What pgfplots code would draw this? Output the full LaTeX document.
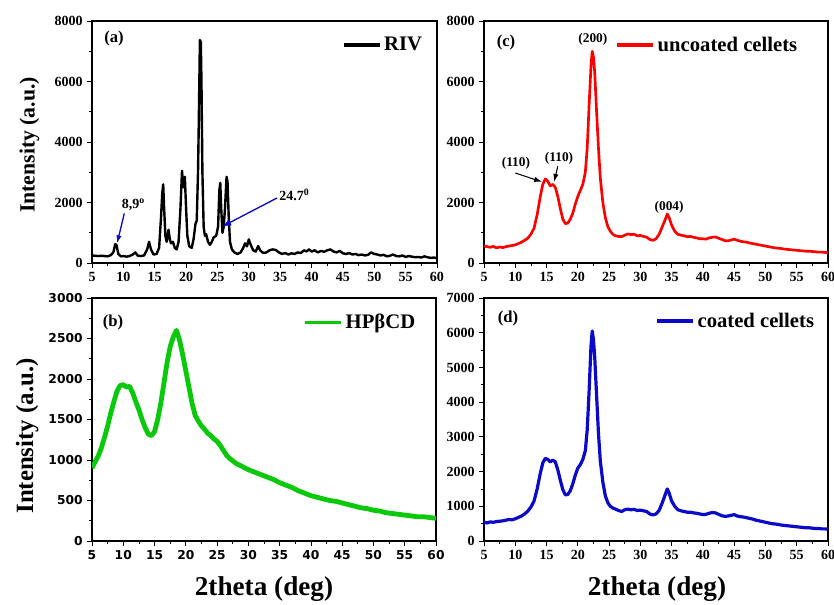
\documentclass[border=0pt]{standalone}
\usepackage{fontspec}
\setmainfont{Liberation Serif}
\newfontfamily\dejavu{DejaVu Sans}
\usepackage{pgfplots}
\pgfplotsset{compat=1.18}
\usetikzlibrary{arrows.meta}
\definecolor{xgreen}{RGB}{10,200,10}
\definecolor{xblue}{RGB}{10,10,200}
\definecolor{xred}{RGB}{255,0,0}
\pgfplotsset{
  xrd/.style={
    scale only axis,
    xmin=5, xmax=60, ymin=0,
    xtick={5,10,...,60},
    minor x tick num=1, minor y tick num=1,
    tick align=outside,
    xtick pos=left, ytick pos=left,
    major tick length=3.5pt, minor tick length=2pt,
    every tick/.style={black, line width=0.6pt},
    axis line style={line width=0.8pt},
    /pgf/number format/assume math mode=true,
    /pgf/number format/set thousands separator={},
    scaled y ticks=false,
    tick label style={font=\bfseries\fontsize{10.5}{12}\selectfont},
    legend style={draw=none, fill=none, anchor=east,
      font=\bfseries\fontsize{15.5}{17}\selectfont,
      inner sep=0pt,
      /tikz/every even column/.append style={column sep=0pt}},
    legend cell align=left,
    legend image code/.code={\draw[#1, line width=2.6pt] (0pt,0pt) -- (27pt,0pt);},
  }
}
\begin{document}
\begin{tikzpicture}
\path[use as bounding box] (0,0) rectangle (625.5pt,-453pt);

% (a) RIV
\begin{axis}[xrd, at={(69pt,-197.25pt)}, anchor=south west,
  width=258.75pt, height=181.5pt, ymax=8000, ytick={0,2000,...,8000},
  legend style={at={(0.965,0.90)}}]
\addplot[black, line width=1.8pt, line join=round] coordinates {
(5,250)(5.5,240)(6,230)(6.5,240)(7,230)(7.5,220)(8,260)(8.4,350)(8.7,620)(8.9,600)(9.2,300)(9.6,220)(10,230)(10.5,210)(11,230)(11.5,280)(11.9,350)(12.3,240)(12.8,230)(13.3,250)(13.8,450)(14.1,700)(14.4,450)(14.8,280)(15.3,300)(15.7,500)(16.0,1500)(16.2,2300)(16.35,2600)(16.5,1800)(16.7,900)(16.9,700)(17.2,1100)(17.4,800)(17.6,650)(17.9,700)(18.2,500)(18.5,450)(18.8,700)(19.1,1800)(19.35,3050)(19.55,2500)(19.8,2850)(20.0,1800)(20.2,900)(20.5,550)(20.9,500)(21.2,800)(21.5,1300)(21.7,1400)(21.9,3000)(22.0,4300)(22.1,5800)(22.2,7370)(22.35,7300)(22.45,6000)(22.6,3000)(22.8,1200)(23.0,900)(23.2,950)(23.5,700)(23.8,600)(24.1,700)(24.4,850)(24.8,900)(25.1,1200)(25.3,2400)(25.45,2650)(25.6,1800)(25.8,1000)(26.0,1200)(26.2,1800)(26.45,2850)(26.6,2700)(26.8,1500)(27.0,700)(27.3,450)(27.7,350)(28.2,300)(28.7,350)(29.1,500)(29.4,650)(29.7,550)(30.0,780)(30.3,600)(30.7,420)(31.1,380)(31.5,560)(31.8,420)(32.3,330)(32.8,350)(33.3,420)(33.8,450)(34.3,430)(34.8,350)(35.3,300)(35.8,330)(36.3,280)(36.8,320)(37.3,300)(37.8,350)(38.3,330)(38.8,420)(39.2,380)(39.6,450)(40.0,380)(40.5,420)(41.0,350)(41.5,400)(42.0,370)(42.5,420)(43.0,450)(43.5,380)(44.0,350)(44.5,400)(45.0,320)(45.5,300)(46.0,330)(46.5,280)(47.0,300)(47.5,260)(48.0,280)(48.5,250)(49.0,270)(49.5,350)(50.0,300)(50.5,280)(51.0,250)(51.5,270)(52.0,220)(52.5,240)(53.0,280)(53.5,230)(54.0,220)(54.5,250)(55.0,200)(55.5,230)(56.0,210)(56.5,190)(57.0,200)(57.5,180)(58.0,220)(58.5,190)(59.0,170)(59.5,180)(60.0,160)
};
\addlegendentry{RIV}
\node[font=\bfseries\fontsize{12.5}{14}\selectfont] at (rel axis cs:0.064,0.926) {(a)};
\node[font=\bfseries\fontsize{10.5}{12}\selectfont] at (axis cs:11.6,1920) {8,9\textsuperscript{o}};
\draw[xblue, line width=1pt, -{Latex[length=6pt,width=4pt]}] (axis cs:10.15,1640) -- (axis cs:9.0,650);
\node[font=\bfseries\fontsize{10.5}{12}\selectfont, anchor=west, inner sep=1pt] at (axis cs:34.6,2250) {24.7\textsuperscript{0}};
\draw[xblue, line width=1pt, -{Latex[length=7pt,width=5pt]}] (axis cs:34.5,2150) -- (axis cs:25.7,1200);
\end{axis}

% (c) uncoated
\begin{axis}[xrd, at={(363pt,-197.25pt)}, anchor=south west,
  width=258pt, height=181.5pt, ymax=8000, ytick={0,2000,...,8000},
  legend style={at={(0.919,0.90)}}]
\addplot[xred, line width=2pt, line join=round] coordinates {
(5,560)(5.5,540)(6,520)(6.5,550)(7,500)(7.5,530)(8,510)(8.5,540)(9,560)(9.5,580)(10,600)(10.5,640)(11,690)(11.5,750)(12,820)(12.5,950)(13,1150)(13.5,1600)(14,2200)(14.4,2600)(14.8,2780)(15.2,2700)(15.6,2550)(16.0,2600)(16.4,2500)(16.8,2200)(17.2,1800)(17.6,1450)(18.0,1300)(18.4,1320)(18.8,1450)(19.2,1650)(19.6,1950)(20.0,2200)(20.4,2400)(20.8,2600)(21.2,3000)(21.5,3800)(21.8,5200)(22.1,6500)(22.3,7000)(22.5,6800)(22.7,6300)(23.0,5000)(23.3,3800)(23.6,2800)(24.0,2000)(24.4,1500)(24.8,1200)(25.2,1050)(25.6,950)(26.0,900)(26.5,880)(27.0,870)(27.5,920)(28.0,960)(28.5,940)(29.0,950)(29.5,900)(30.0,910)(30.5,880)(31.0,850)(31.5,780)(32.0,750)(32.5,800)(33.0,950)(33.5,1200)(34.0,1450)(34.3,1620)(34.6,1500)(35.0,1250)(35.5,1050)(36.0,950)(36.5,920)(37.0,900)(37.5,870)(38.0,880)(38.5,850)(39.0,830)(39.5,800)(40.0,800)(40.5,790)(41.0,830)(41.5,850)(42.0,860)(42.5,820)(43.0,780)(43.5,740)(44.0,730)(44.5,760)(45.0,790)(45.5,750)(46.0,720)(46.5,700)(47.0,690)(47.5,660)(48.0,640)(48.5,620)(49.0,600)(49.5,580)(50.0,560)(50.5,540)(51.0,520)(51.5,500)(52.0,490)(52.5,480)(53.0,460)(53.5,450)(54.0,440)(54.5,430)(55.0,420)(55.5,410)(56.0,400)(56.5,390)(57.0,390)(57.5,380)(58.0,370)(58.5,360)(59.0,360)(59.5,350)(60.0,340)
};
\addlegendentry{uncoated cellets}
\node[font=\bfseries\fontsize{12.5}{14}\selectfont] at (rel axis cs:0.064,0.913) {(c)};
\node[font=\bfseries\fontsize{10}{12}\selectfont] at (axis cs:10.1,3300) {(110)};
\node[font=\bfseries\fontsize{10}{12}\selectfont] at (axis cs:17.0,3470) {(110)};
\node[font=\bfseries\fontsize{10}{12}\selectfont] at (axis cs:22.4,7400) {(200)};
\node[font=\bfseries\fontsize{10}{12}\selectfont] at (axis cs:34.6,1850) {(004)};
\draw[black, line width=0.8pt, -{Latex[length=6pt,width=4pt]}] (axis cs:10.0,2975) -- (axis cs:14.3,2680);
\draw[black, line width=0.8pt, -{Latex[length=6pt,width=4pt]}] (axis cs:16.8,3200) -- (axis cs:16.2,2680);
\end{axis}

% (b) HPbCD
\begin{axis}[xrd, at={(69pt,-405.75pt)}, anchor=south west,
  width=258pt, height=182.25pt, ymax=3000, ytick={0,500,...,3000},
  tick label style={font=\dejavu\bfseries\fontsize{9.2}{11}\selectfont},
  legend style={at={(0.948,0.90)}}]
\addplot[xgreen, line width=3.6pt, line join=round] coordinates {
(5,900)(5.5,980)(6,1050)(6.5,1150)(7,1280)(7.5,1420)(8,1580)(8.5,1720)(9,1850)(9.5,1920)(10,1930)(10.5,1900)(11,1910)(11.5,1830)(12,1720)(12.5,1620)(13,1500)(13.5,1400)(14,1320)(14.5,1300)(15,1350)(15.5,1500)(16,1700)(16.5,1950)(17,2200)(17.5,2400)(18,2520)(18.5,2600)(19,2480)(19.5,2300)(20,2100)(20.5,1900)(21,1700)(21.5,1550)(22,1480)(22.5,1420)(23,1380)(23.5,1330)(24,1300)(24.5,1260)(25,1230)(25.5,1180)(26,1120)(26.5,1060)(27,1020)(27.5,990)(28,960)(28.5,940)(29,920)(29.5,900)(30,880)(31,850)(32,820)(33,790)(34,760)(35,720)(36,690)(37,660)(38,620)(39,590)(40,560)(41,540)(42,520)(43,500)(44,490)(45,470)(46,450)(47,430)(48,410)(49,400)(50,380)(51,370)(52,350)(53,340)(54,330)(55,320)(56,310)(57,300)(58,300)(59,290)(60,280)
};
\addlegendentry{HPβCD}
\node[font=\bfseries\fontsize{12.5}{14}\selectfont] at (rel axis cs:0.061,0.90) {(b)};
\end{axis}

% (d) coated
\begin{axis}[xrd, at={(363pt,-405.75pt)}, anchor=south west,
  width=258pt, height=182.25pt, ymax=7000, ytick={0,1000,...,7000},
  legend style={at={(0.968,0.905)}}]
\addplot[xblue, line width=2.4pt, line join=round] coordinates {
(5,540)(5.5,520)(6,550)(6.5,540)(7,560)(7.5,570)(8,580)(8.5,600)(9,620)(9.5,610)(10,640)(10.5,680)(11,720)(11.5,780)(12,860)(12.5,980)(13,1150)(13.5,1500)(14,1950)(14.4,2250)(14.8,2380)(15.2,2350)(15.6,2280)(16.0,2330)(16.4,2280)(16.8,2050)(17.2,1750)(17.6,1480)(18.0,1330)(18.4,1340)(18.8,1450)(19.2,1650)(19.6,1900)(20.0,2100)(20.4,2200)(20.8,2350)(21.2,2600)(21.5,3200)(21.8,4300)(22.1,5600)(22.3,6050)(22.5,5800)(22.7,5300)(23.0,4200)(23.3,3100)(23.6,2300)(24.0,1700)(24.4,1300)(24.8,1100)(25.2,1000)(25.6,950)(26.0,920)(26.5,880)(27.0,850)(27.5,900)(28.0,920)(28.5,900)(29.0,910)(29.5,880)(30.0,890)(30.5,870)(31.0,850)(31.5,780)(32.0,750)(32.5,780)(33.0,880)(33.5,1100)(34.0,1350)(34.3,1500)(34.6,1380)(35.0,1150)(35.5,1000)(36.0,900)(36.5,870)(37.0,850)(37.5,830)(38.0,830)(38.5,810)(39.0,800)(39.5,780)(40.0,760)(40.5,770)(41.0,800)(41.5,820)(42.0,810)(42.5,770)(43.0,730)(43.5,710)(44.0,720)(44.5,740)(45.0,760)(45.5,720)(46.0,700)(46.5,690)(47.0,670)(47.5,650)(48.0,630)(48.5,600)(49.0,580)(49.5,560)(50.0,540)(50.5,520)(51.0,500)(51.5,490)(52.0,480)(52.5,460)(53.0,450)(53.5,440)(54.0,430)(54.5,420)(55.0,410)(55.5,400)(56.0,390)(56.5,380)(57.0,380)(57.5,370)(58.0,360)(58.5,360)(59.0,350)(59.5,350)(60.0,340)
};
\addlegendentry{coated cellets}
\node[font=\bfseries\fontsize{12.5}{14}\selectfont] at (rel axis cs:0.07,0.914) {(d)};
\end{axis}

% axis labels
\node[rotate=90, anchor=base, font=\bfseries\fontsize{16.3}{18}\selectfont] at (25.9pt,-108.75pt) {Intensity (a.u.)};
\node[rotate=90, anchor=base, font=\bfseries\fontsize{18.6}{20}\selectfont] at (24.75pt,-327pt) {Intensity (a.u.)};
\node[anchor=base, font=\bfseries\fontsize{20.4}{22}\selectfont] at (198pt,-446.25pt) {2theta (deg)};
\node[anchor=base, font=\bfseries\fontsize{20.4}{22}\selectfont] at (492.75pt,-446.25pt) {2theta (deg)};
\end{tikzpicture}
\end{document}
